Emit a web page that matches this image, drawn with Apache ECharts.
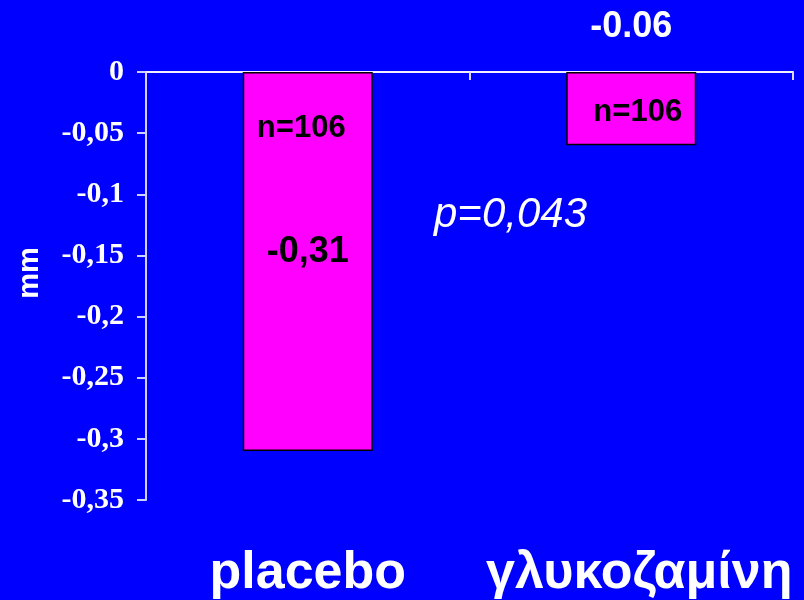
<!DOCTYPE html>
<html>
<head>
<meta charset="utf-8">
<script src="https://cdn.jsdelivr.net/npm/echarts@6/dist/echarts.min.js"></script>
<style>
  html, body { margin: 0; padding: 0; background: #0000ff; }
  #chart { width: 804px; height: 600px; }
</style>
</head>
<body>
<div id="chart"></div>
<script>
// Mean change in joint space width (mm), by treatment group
const categories = ['placebo', 'γλυκοζαμίνη'];
const meanChange = [-0.31, -0.06];
const valueLabels = ['-0,31', '-0.06'];
const sampleSizes = [106, 106];
const yTicks = { min: -0.35, max: 0, step: 0.05 };
const pValueText = 'p=0,043';
const unitText = 'mm';

const SANS = '"Liberation Sans", Arial, sans-serif';
const SERIF = '"Liberation Serif", "Times New Roman", serif';

// label placements relative to each bar rectangle
const valueLabelPlacement = [
  { position: ['50%', 180], color: '#000000' },
  { position: ['50%', -45], color: '#ffffff' }
];
const sizeLabelPlacement = [
  { position: ['45%', 56] },
  { position: ['55%', 40] }
];

const chart = echarts.init(document.getElementById('chart'));

const catLabelStyle = { color: '#ffffff', fontFamily: SANS, fontWeight: 'bold', fontSize: 52 };

chart.setOption({
  backgroundColor: '#0000ff',
  animation: false,
  grid: { left: 146, right: 11, top: 72, bottom: 98, containLabel: false },
  xAxis: [
    {
      type: 'category',
      data: categories,
      position: 'top',
      axisLine: { show: true, lineStyle: { color: '#f0f0ff', width: 2 } },
      axisTick: { show: true, inside: true, length: 8, lineStyle: { color: '#d8d8ff', width: 2 } },
      axisLabel: { show: false },
      splitLine: { show: false }
    },
    {
      type: 'category',
      data: categories,
      position: 'bottom',
      axisLine: { show: false },
      axisTick: { show: false },
      axisLabel: {
        show: true,
        interval: 0,
        hideOverlap: false,
        margin: 48,
        formatter: (name, idx) => (idx === 1 ? '{shift|' + name + '}' : '{plain|' + name + '}'),
        rich: {
          plain: Object.assign({}, catLabelStyle),
          shift: Object.assign({ padding: [0, 0, 0, 16] }, catLabelStyle)
        }
      },
      splitLine: { show: false }
    }
  ],
  yAxis: {
    type: 'value',
    min: yTicks.min,
    max: yTicks.max,
    interval: yTicks.step,
    axisLine: { show: true, lineStyle: { color: '#d0d0ff', width: 2 } },
    axisTick: { show: true, inside: false, length: 9, lineStyle: { color: '#d0d0ff', width: 2 } },
    axisLabel: {
      margin: 22,
      color: '#ffffff',
      fontFamily: SERIF,
      fontWeight: 'bold',
      fontSize: 30,
      formatter: v => (Math.abs(v) < 1e-9 ? '0' : String(Math.round(v * 100) / 100).replace('.', ','))
    },
    splitLine: { show: false }
  },
  series: [
    {
      type: 'bar',
      xAxisIndex: 0,
      barWidth: 130,
      barGap: '-100%',
      silent: true,
      itemStyle: { color: '#ff00ff', borderColor: '#000000', borderWidth: 1.5 },
      data: meanChange.map((v, i) => ({
        value: v,
        label: {
          show: true,
          position: valueLabelPlacement[i].position,
          align: 'center',
          verticalAlign: 'middle',
          formatter: valueLabels[i],
          color: valueLabelPlacement[i].color,
          fontFamily: SANS,
          fontWeight: 'bold',
          fontSize: 36
        }
      }))
    },
    {
      type: 'bar',
      xAxisIndex: 0,
      barWidth: 130,
      barGap: '-100%',
      silent: true,
      itemStyle: { color: 'rgba(0,0,0,0)', borderWidth: 0 },
      data: meanChange.map((v, i) => ({
        value: v,
        label: {
          show: true,
          position: sizeLabelPlacement[i].position,
          align: 'center',
          verticalAlign: 'middle',
          formatter: 'n=' + sampleSizes[i],
          color: '#000000',
          fontFamily: SANS,
          fontWeight: 'bold',
          fontSize: 31
        }
      }))
    }
  ],
  graphic: [
    {
      type: 'text',
      left: 434,
      top: 194,
      style: {
        text: pValueText,
        fill: '#ffffff',
        font: 'italic 42px ' + SANS
      }
    },
    {
      type: 'text',
      x: 30,
      y: 273,
      rotation: Math.PI / 2,
      style: {
        text: unitText,
        fill: '#ffffff',
        font: 'bold 29px ' + SANS,
        align: 'center',
        verticalAlign: 'middle'
      }
    }
  ]
});
</script>
</body>
</html>
